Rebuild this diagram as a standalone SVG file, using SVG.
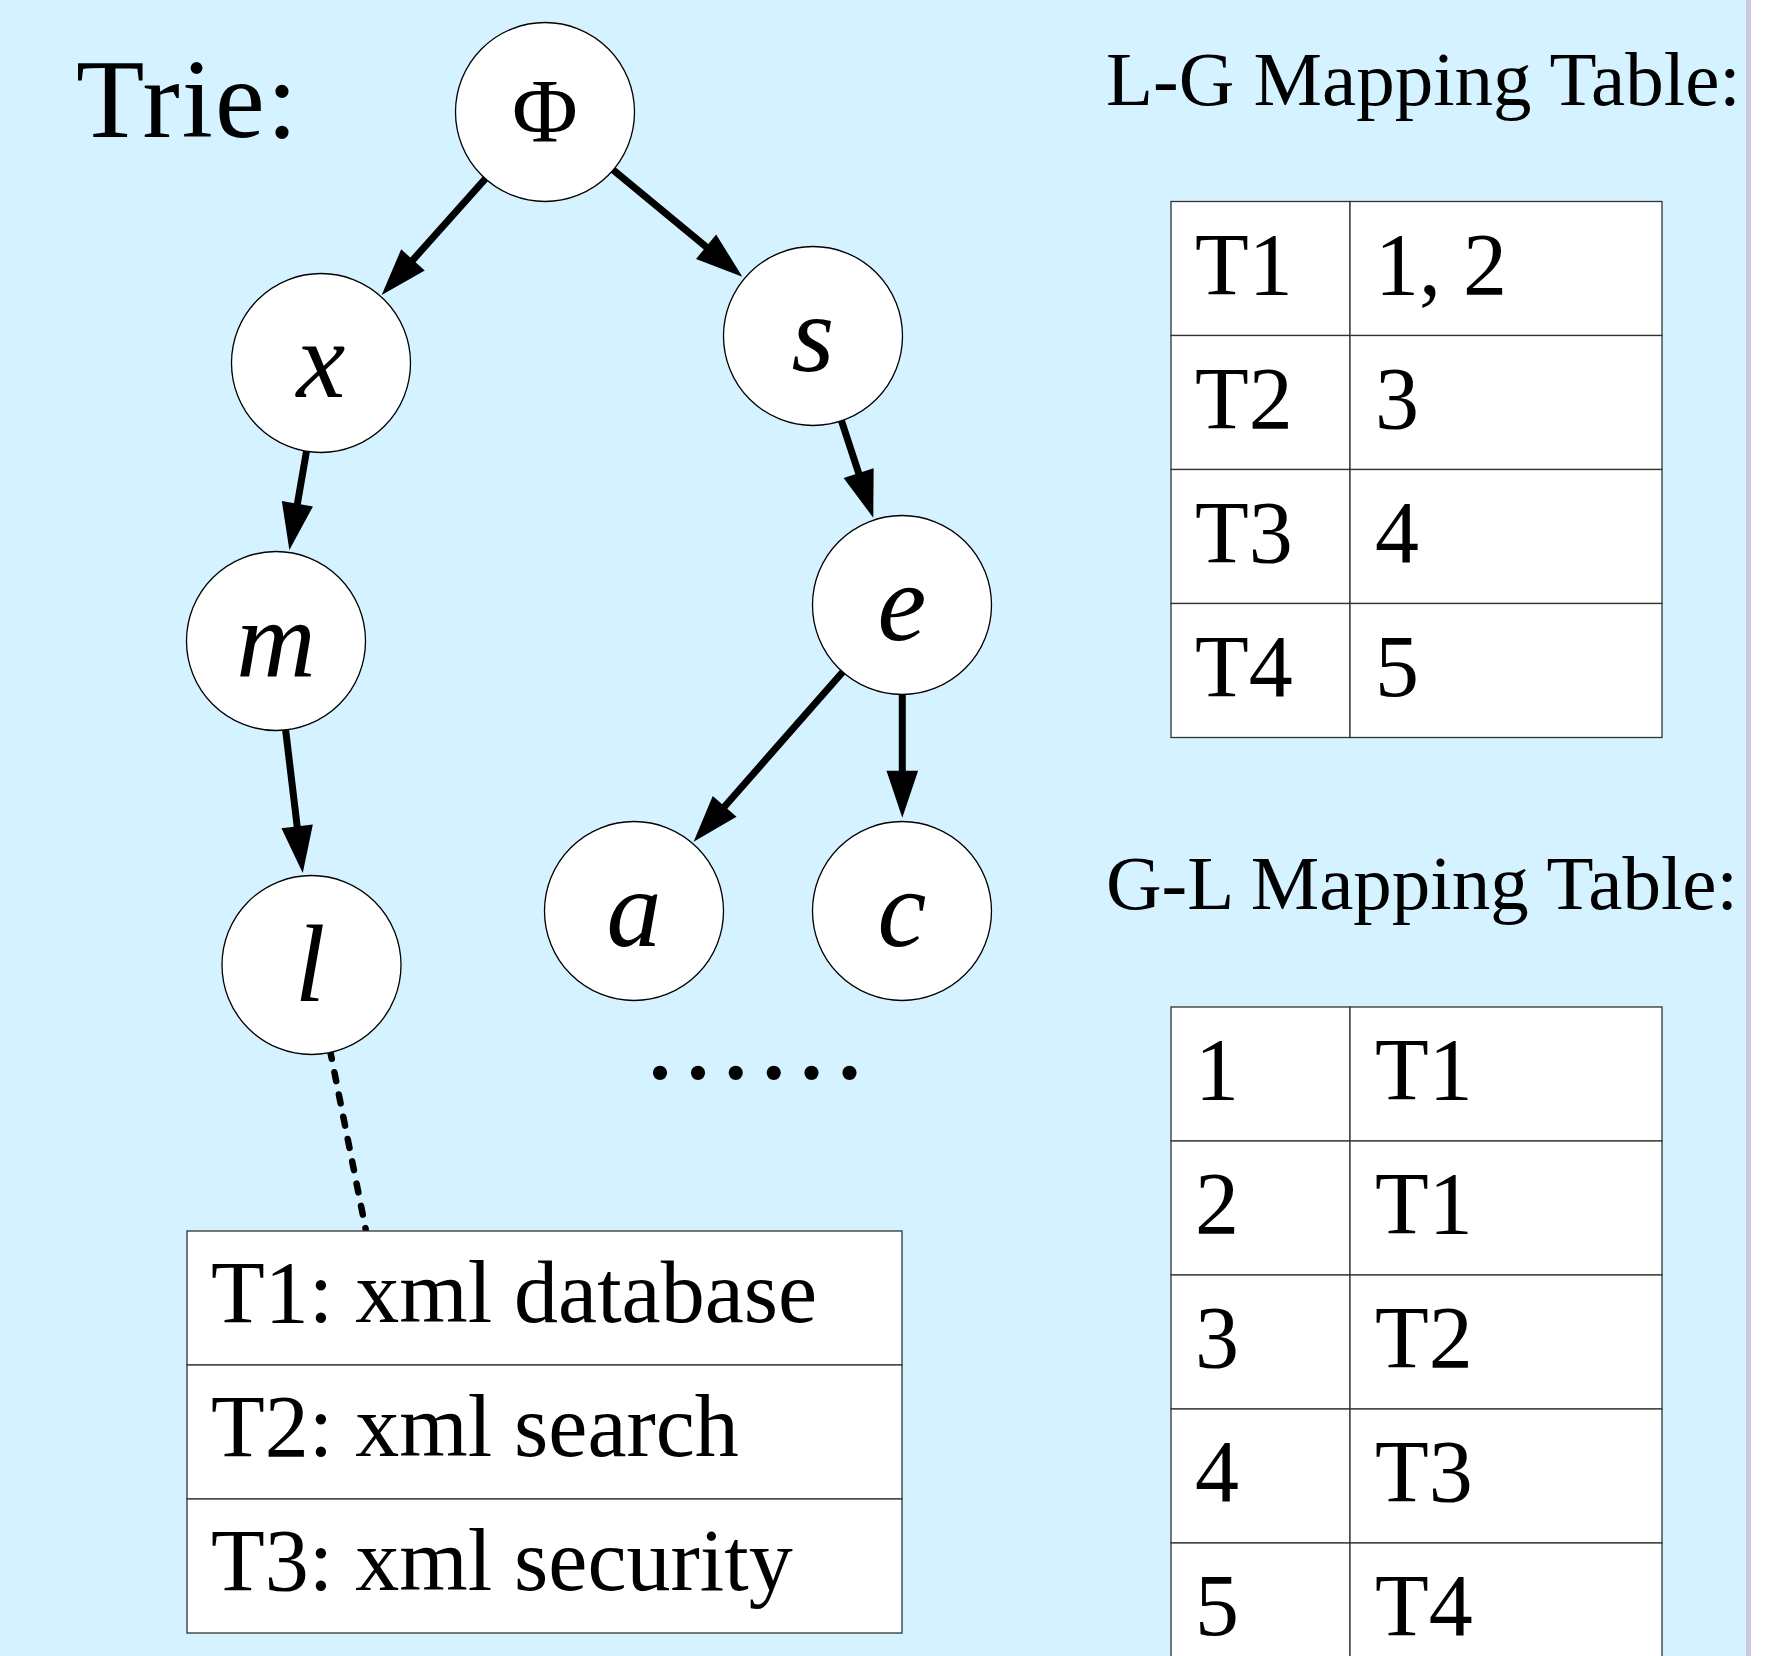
<svg xmlns="http://www.w3.org/2000/svg" width="1784" height="1656" viewBox="0 0 1784 1656">
<defs>
<style>
.node circle{fill:#fff;stroke:#000;stroke-width:1.3}
.lbl{font-family:"Liberation Serif","Times New Roman",serif;font-style:italic;font-size:110px;text-anchor:middle;fill:#000}
.phi{font-family:"Liberation Serif","Times New Roman",serif;font-size:90px;text-anchor:middle;fill:#000}
.edge{stroke:#000;stroke-width:7;stroke-linecap:round;fill:none;marker-end:url(#ah)}
.dash{stroke:#000;stroke-width:6.5;stroke-linecap:round;fill:none;stroke-dasharray:9 13.7}
.cell{fill:#fff;stroke:#333;stroke-width:1.3}
.t{font-family:"Liberation Serif","Times New Roman",serif;font-size:88px;fill:#000}
.title{font-family:"Liberation Serif","Times New Roman",serif;font-size:77px;fill:#000}
</style>
<marker id="ah" markerUnits="userSpaceOnUse" markerWidth="48" markerHeight="32" refX="7" refY="15.8" orient="auto" overflow="visible">
<path d="M0,0 L47,15.8 L0,31.6 Z" fill="#000"/>
</marker>
</defs>
<rect x="0" y="0" width="1784" height="1656" fill="#fff"/>
<rect x="0" y="0" width="1746" height="1656" fill="#D4F2FF"/>
<rect x="1746" y="0" width="5" height="1656" fill="#CCC6E0"/>

<text class="t" x="76" y="137" style="font-size:112px;letter-spacing:2px">Trie:</text>
<text class="title" x="1106" y="104.5">L-G Mapping Table:</text>
<text class="title" x="1106" y="909">G-L Mapping Table:</text>

<g id="connectors">
<path class="edge" d="M485.7,178.3 L408.3,265.1"/>
<path class="edge" d="M612.3,169.3 L711.5,251.2"/>
<path class="edge" d="M306.7,450 L296.2,510.6"/>
<path class="edge" d="M841,419.3 L860.8,479.7"/>
<path class="edge" d="M285.5,729 L298,833.3"/>
<path class="edge" d="M842.7,672 L720,811.7"/>
<path class="edge" d="M902.3,693.3 L902.3,777.7"/>
<path class="dash" d="M330,1050 L365.7,1229.3"/>
</g>

<g id="node-phi" class="node"><circle cx="545" cy="112" r="89.5"/><text class="phi" x="545" y="142">Φ</text></g>
<g id="node-x" class="node"><circle cx="321" cy="363" r="89.5"/><text class="lbl" x="321" y="397">x</text></g>
<g id="node-s" class="node"><circle cx="813" cy="336" r="89.5"/><text class="lbl" x="813" y="371">s</text></g>
<g id="node-m" class="node"><circle cx="276" cy="641" r="89.5"/><text class="lbl" x="276" y="677">m</text></g>
<g id="node-e" class="node"><circle cx="902" cy="605" r="89.5"/><text class="lbl" x="902" y="640">e</text></g>
<g id="node-l" class="node"><circle cx="311.5" cy="965" r="89.5"/><text class="lbl" x="310" y="1001">l</text></g>
<g id="node-a" class="node"><circle cx="634" cy="911" r="89.5"/><text class="lbl" x="634" y="946">a</text></g>
<g id="node-c" class="node"><circle cx="902" cy="911" r="89.5"/><text class="lbl" x="902" y="946">c</text></g>

<text id="ellipsis" class="t" x="645" y="1078" style="font-size:120px;letter-spacing:7.9px">......</text>

<g id="titles-table">
<rect class="cell" x="187" y="1231" width="715" height="134"/>
<rect class="cell" x="187" y="1365" width="715" height="134"/>
<rect class="cell" x="187" y="1499" width="715" height="134"/>
<text class="t" x="211" y="1322">T1: xml database</text>
<text class="t" x="211" y="1456">T2: xml search</text>
<text class="t" x="211" y="1590">T3: xml security</text>
</g>

<g id="lg-table">
<rect class="cell" x="1171" y="201.5" width="179" height="134"/>
<rect class="cell" x="1350" y="201.5" width="312" height="134"/>
<rect class="cell" x="1171" y="335.5" width="179" height="134"/>
<rect class="cell" x="1350" y="335.5" width="312" height="134"/>
<rect class="cell" x="1171" y="469.5" width="179" height="134"/>
<rect class="cell" x="1350" y="469.5" width="312" height="134"/>
<rect class="cell" x="1171" y="603.5" width="179" height="134"/>
<rect class="cell" x="1350" y="603.5" width="312" height="134"/>
<text class="t" x="1195" y="294">T1</text><text class="t" x="1375" y="294">1, 2</text>
<text class="t" x="1195" y="428">T2</text><text class="t" x="1375" y="428">3</text>
<text class="t" x="1195" y="562">T3</text><text class="t" x="1375" y="562">4</text>
<text class="t" x="1195" y="696">T4</text><text class="t" x="1375" y="696">5</text>
</g>

<g id="gl-table">
<rect class="cell" x="1171" y="1007" width="179" height="134"/>
<rect class="cell" x="1350" y="1007" width="312" height="134"/>
<rect class="cell" x="1171" y="1141" width="179" height="134"/>
<rect class="cell" x="1350" y="1141" width="312" height="134"/>
<rect class="cell" x="1171" y="1275" width="179" height="134"/>
<rect class="cell" x="1350" y="1275" width="312" height="134"/>
<rect class="cell" x="1171" y="1409" width="179" height="134"/>
<rect class="cell" x="1350" y="1409" width="312" height="134"/>
<rect class="cell" x="1171" y="1543" width="179" height="134"/>
<rect class="cell" x="1350" y="1543" width="312" height="134"/>
<text class="t" x="1195" y="1099">1</text><text class="t" x="1375" y="1099">T1</text>
<text class="t" x="1195" y="1233">2</text><text class="t" x="1375" y="1233">T1</text>
<text class="t" x="1195" y="1367">3</text><text class="t" x="1375" y="1367">T2</text>
<text class="t" x="1195" y="1501">4</text><text class="t" x="1375" y="1501">T3</text>
<text class="t" x="1195" y="1635">5</text><text class="t" x="1375" y="1635">T4</text>
</g>
</svg>
